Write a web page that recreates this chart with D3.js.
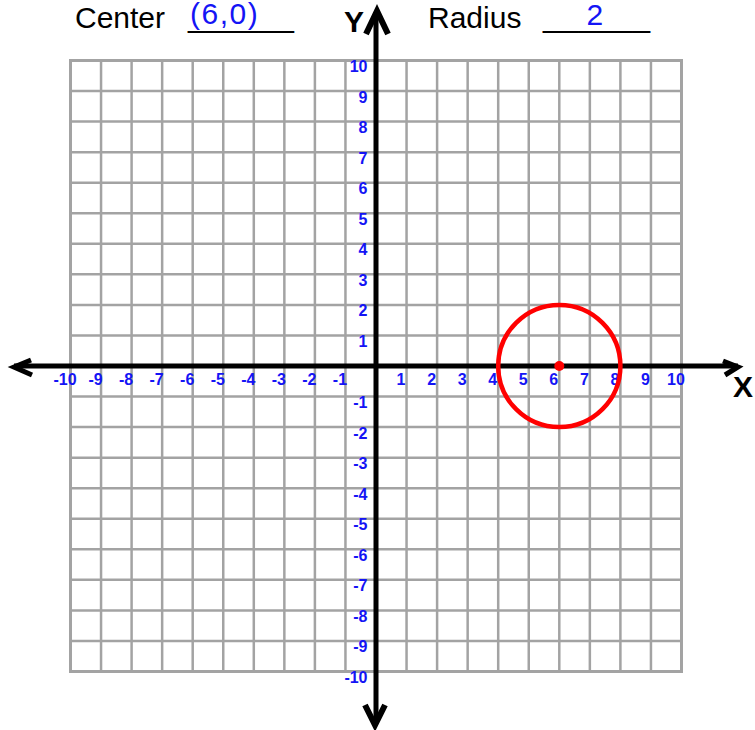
<!DOCTYPE html>
<html>
<head>
<meta charset="utf-8">
<script src="https://cdn.jsdelivr.net/npm/d3@7"></script>
<style>
  html, body { margin: 0; padding: 0; background: #fff; }
  svg { display: block; font-family: "Liberation Sans", Arial, sans-serif; }
</style>
</head>
<body>
<svg id="chart" width="755" height="730"></svg>
<script>
// ---- data ----
const xTicks = [-10, -9, -8, -7, -6, -5, -4, -3, -2, -1, 1, 2, 3, 4, 5, 6, 7, 8, 9, 10];
const yTicks = [10, 9, 8, 7, 6, 5, 4, 3, 2, 1, -1, -2, -3, -4, -5, -6, -7, -8, -9, -10];
const gridValues = [-10, -9, -8, -7, -6, -5, -4, -3, -2, -1, 0, 1, 2, 3, 4, 5, 6, 7, 8, 9, 10];
const circleCenter = [6, 0];
const circleRadius = [2];
const centerLabel = ["(6,0)"];
const radiusLabel = ["2"];

// ---- scales ----
const x = d3.scaleLinear().domain([-10, 10]).range([70.5, 681.5]);
const y = d3.scaleLinear().domain([10, -10]).range([60.5, 671.5]);
const svg = d3.select("#chart");
const blue = "#1414f5";
const gray = "#a3a3a3";

// ---- grid ----
const grid = svg.append("g");
grid.selectAll("line.v").data(gridValues).join("line")
  .attr("x1", d => x(d)).attr("x2", d => x(d))
  .attr("y1", y(10)).attr("y2", y(-10))
  .attr("stroke", gray).attr("stroke-width", 2.5);
grid.selectAll("line.h").data(gridValues).join("line")
  .attr("y1", d => y(d)).attr("y2", d => y(d))
  .attr("x1", x(-10)).attr("x2", x(10))
  .attr("stroke", gray).attr("stroke-width", 2.5);
grid.append("rect")
  .attr("x", x(-10)).attr("y", y(10))
  .attr("width", x(10) - x(-10)).attr("height", y(-10) - y(10))
  .attr("fill", "none").attr("stroke", gray).attr("stroke-width", 3);

// ---- axes ----
const ax = svg.append("g").attr("stroke", "#000").attr("fill", "none")
  .attr("stroke-width", 5).attr("stroke-linecap", "butt");
const y0 = y(0), x0 = x(0);
ax.append("line").attr("x1", 14).attr("x2", 738).attr("y1", y0).attr("y2", y0);
ax.append("line").attr("x1", x0).attr("x2", x0).attr("y1", 12).attr("y2", 724);
// arrow heads
ax.append("path").attr("d", `M31,${y0 - 6} L14,${y0 + 1} L32,${y0 + 9}`).attr("stroke-linejoin", "miter");
ax.append("path").attr("d", `M723,${y0 - 5} L738,${y0 + 1} L725,${y0 + 9}`).attr("stroke-linejoin", "miter");
ax.append("path").attr("d", `M${x0 - 10},34 L${x0 + 1},11 L${x0 + 12},34`).attr("stroke-width", 6).attr("stroke-linejoin", "miter");
ax.append("path").attr("d", `M${x0 - 11},705 L${x0 - 1},725 L${x0 + 9},705`).attr("stroke-width", 6).attr("stroke-linejoin", "miter");

// ---- tick labels ----
svg.append("g").selectAll("text").data(xTicks).join("text")
  .attr("x", d => x(d) - 5.5).attr("y", y0 + 19)
  .attr("text-anchor", "middle")
  .attr("font-size", 16).attr("font-weight", "bold").attr("fill", blue)
  .text(d => d);
svg.append("g").selectAll("text").data(yTicks).join("text")
  .attr("x", 367.5).attr("y", d => y(d) + 11.5)
  .attr("text-anchor", "end")
  .attr("font-size", 16).attr("font-weight", "bold").attr("fill", blue)
  .text(d => d);

// ---- axis names ----
svg.append("text").attr("x", 344).attr("y", 32).attr("font-size", 30).attr("font-weight", "bold").text("Y");
svg.append("text").attr("x", 733).attr("y", 397).attr("font-size", 30).attr("font-weight", "bold").text("X");

// ---- circle ----
const pxPerUnit = x(1) - x(0);
svg.append("circle")
  .attr("cx", x(circleCenter[0])).attr("cy", y(circleCenter[1]))
  .attr("r", circleRadius[0] * pxPerUnit)
  .attr("fill", "none").attr("stroke", "#ff0000").attr("stroke-width", 4.5);
svg.append("circle")
  .attr("cx", x(circleCenter[0])).attr("cy", y(circleCenter[1]))
  .attr("r", 5).attr("fill", "#ff0000");

// ---- header ----
const hdr = svg.append("g").attr("font-size", 30);
hdr.append("text").attr("x", 75).attr("y", 28).text("Center");
hdr.append("text").attr("x", 188).attr("y", 26.5).attr("textLength", 106).attr("lengthAdjust", "spacingAndGlyphs").text("______");
hdr.append("text").attr("x", 190).attr("y", 23.5).attr("fill", blue).attr("letter-spacing", 1.5).text(centerLabel[0]);
hdr.append("text").attr("x", 428).attr("y", 27.5).text("Radius");
hdr.append("text").attr("x", 543).attr("y", 26.5).attr("textLength", 107).attr("lengthAdjust", "spacingAndGlyphs").text("______");
hdr.append("text").attr("x", 586.5).attr("y", 25).attr("fill", blue).text(radiusLabel[0]);
</script>
</body>
</html>
